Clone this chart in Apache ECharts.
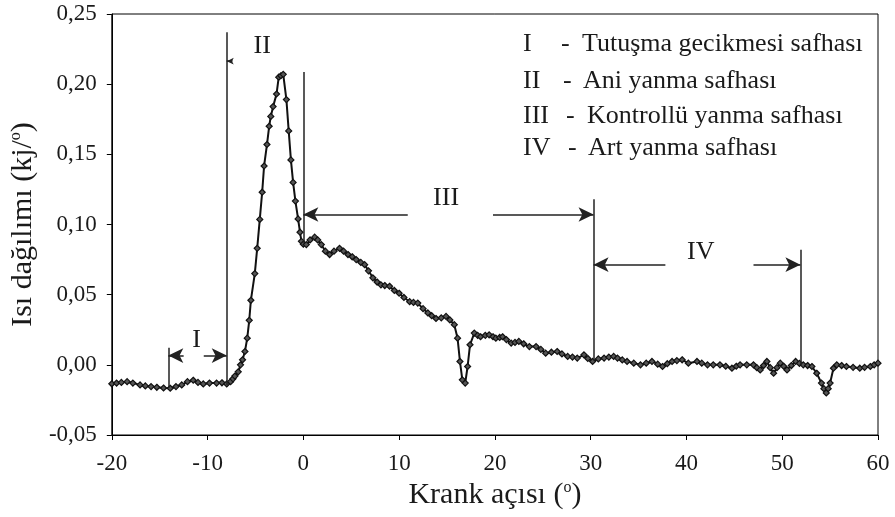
<!DOCTYPE html>
<html>
<head>
<meta charset="utf-8">
<script src="https://cdn.jsdelivr.net/npm/echarts@6/dist/echarts.min.js"></script>
<style>
  html, body { margin: 0; padding: 0; background: #fff; }
  #chart { width: 895px; height: 517px; }
</style>
</head>
<body>
<div id="chart"></div>
<script>
// Crank angle (deg) and heat release rate (kJ/deg)
const crankAngle = [
  -20, -19.5, -19, -18.4, -17.8, -17.05, -16.5, -15.9, -15.3, -14.6,
  -13.9, -13.3, -12.7, -12.1, -11.5, -11.0, -10.45, -9.8, -9.06, -8.5,
  -8.0, -7.6, -7.35, -7.15, -6.8, -6.56, -6.35, -6.1, -5.86, -5.65,
  -5.48, -5.07, -4.82, -4.55, -4.3, -4.1, -3.8, -3.57, -3.4, -3.16,
  -2.8, -2.57, -2.35, -2.1, -1.77, -1.53, -1.3, -1.07, -0.83, -0.55,
  -0.35, -0.2, 0.0, 0.31, 0.7, 1.18, 1.5, 1.875, 2.3, 2.74,
  3.2, 3.78, 4.2, 4.66, 5.1, 5.52, 6.0, 6.4, 6.8, 7.26,
  7.7, 8.1, 8.5, 9.0, 9.5, 10.0, 10.5, 11.1, 11.5, 11.95,
  12.5, 13.0, 13.4, 13.85, 14.4, 14.9, 15.3, 15.76, 16.1, 16.35,
  16.6, 16.9, 17.15, 17.4, 17.85, 18.2, 18.5, 19.0, 19.4, 19.8,
  20.1, 20.5, 20.8, 21.2, 21.7, 22.1, 22.5, 23.0, 23.6, 24.3,
  24.8, 25.3, 25.9, 26.5, 27.0, 27.6, 28.1, 28.6, 29.3, 29.7,
  30.2, 30.8, 31.4, 31.9, 32.4, 32.8, 33.3, 33.8, 34.5, 35.2,
  35.8, 36.4, 37.0, 37.5, 38.0, 38.5, 39.0, 39.55, 40.2, 41.1,
  41.6, 42.2, 42.8, 43.5, 44.1, 44.75, 45.2, 45.6, 46.3, 47.0,
  47.35, 47.7, 48.05, 48.4, 48.75, 49.1, 49.45, 49.8, 50.15, 50.5,
  50.95, 51.4, 51.8, 52.2, 52.65, 53.1, 53.6, 54.1, 54.35, 54.6,
  54.8, 55.0, 55.35, 55.7, 56.2, 56.7, 57.4, 58.1, 58.6, 59.2,
  59.6, 60.0
];
const heatRelease = [
  -0.0135, -0.013, -0.0125, -0.012, -0.013, -0.0143, -0.015, -0.0155, -0.016, -0.0165,
  -0.0167, -0.0155, -0.0143, -0.012, -0.011, -0.0125, -0.0136, -0.013, -0.013, -0.0128,
  -0.0136, -0.012, -0.010, -0.008, -0.005, 0.0, 0.0036, 0.0095, 0.019, 0.0317,
  0.046, 0.065, 0.083, 0.1036, 0.123, 0.1417, 0.157, 0.170, 0.177, 0.184,
  0.193, 0.205, 0.206, 0.207, 0.189, 0.1667, 0.146, 0.130, 0.1167, 0.104,
  0.0945, 0.088, 0.086, 0.0857, 0.089, 0.091, 0.089, 0.0857, 0.081, 0.0786,
  0.081, 0.083, 0.081, 0.0786, 0.077, 0.075, 0.073, 0.0714, 0.067, 0.062,
  0.059, 0.057, 0.0565, 0.056, 0.053, 0.051, 0.048, 0.045, 0.0445, 0.044,
  0.040, 0.037, 0.035, 0.033, 0.0335, 0.0345, 0.032, 0.0286, 0.019, 0.0024,
  -0.0107, -0.013, -0.0012, 0.0143, 0.0226, 0.021, 0.020, 0.021, 0.0214, 0.020,
  0.019, 0.0195, 0.020, 0.018, 0.0155, 0.016, 0.0167, 0.015, 0.013, 0.013,
  0.011, 0.0083, 0.009, 0.0095, 0.0078, 0.006, 0.0055, 0.0048, 0.0071, 0.0045,
  0.0024, 0.0042, 0.0048, 0.0055, 0.006, 0.0048, 0.0035, 0.0024, 0.0012, 0.0,
  0.0012, 0.0024, 0.0005, -0.0012, 0.0008, 0.0024, 0.003, 0.0036, 0.0012, 0.0024,
  0.0012, 0.0, 0.0, 0.0, -0.001, -0.0024, -0.001, 0.0, 0.0, 0.0,
  -0.002, -0.0036, -0.0005, 0.0024, -0.002, -0.006, -0.002, 0.0012, -0.001, -0.0036,
  -0.0005, 0.0024, 0.001, 0.0, -0.0005, -0.0012, -0.006, -0.013, -0.017, -0.020,
  -0.017, -0.013, -0.0024, 0.0, -0.0005, -0.0012, -0.0018, -0.0024, -0.0018, -0.0012,
  0.0, 0.0012
];

// Phase boundaries: [angle, lowY, highY]
const phaseBounds = [
  [-14.1, -0.0164, 0.0121],
  [-8.0, -0.0143, 0.237],
  [0.0, 0.087, 0.2086],
  [30.3, 0.003, 0.118],
  [51.9, 0.0, 0.082]
];
// Phase arrows: [fromX, toX, y]
const phaseArrows = [
  [-12.5, -14.1, 0.0066],
  [-10.4, -8.0, 0.0066],
  [-7.4, -8.0, 0.2164],
  [10.9, 0.0, 0.1071],
  [19.8, 30.3, 0.1071],
  [37.8, 30.3, 0.0714],
  [47.0, 51.9, 0.0714]
];
// Phase tags: [label, x, y]
const phaseTags = [
  ['I', -11.15, 0.0175],
  ['II', -4.3, 0.227],
  ['III', 14.9, 0.119],
  ['IV', 41.5, 0.080]
];
// Legend rows: numeral, description
const phaseNames = [
  ['I', 'Tutuşma gecikmesi safhası'],
  ['II', 'Ani yanma safhası'],
  ['III', 'Kontrollü yanma safhası'],
  ['IV', 'Art yanma safhası']
];
const xTicks = { min: -20, max: 60, step: 10 };
const yTicks = { min: -0.05, max: 0.25, step: 0.05 };

const serif = '"Liberation Serif", "DejaVu Serif", serif';
const ink = '#1a1a1a';

const curve = crankAngle.map((x, i) => [x, heatRelease[i]]);

const lineItems = [];
phaseBounds.forEach(b => {
  lineItems.push([
    { coord: [b[0], b[1]], symbol: 'none' },
    { coord: [b[0], b[2]], symbol: 'none' }
  ]);
});
phaseArrows.forEach(a => {
  lineItems.push([
    { coord: [a[0], a[2]], symbol: 'none' },
    { coord: [a[1], a[2]], symbol: 'arrow', symbolSize: [11, 15] }
  ]);
});
// the small arrow beside phase II is tiny
lineItems[lineItems.length - 5][1].symbolSize = [5, 7];

const tagItems = phaseTags.map(t => ({
  coord: [t[1], t[2]],
  value: t[0],
  symbol: 'circle',
  symbolSize: 0,
  label: {
    show: true, formatter: t[0], position: 'inside',
    fontFamily: serif, fontSize: 26, color: ink
  }
}));

const legendRows = [
  { y: 31, dashX: 561, textX: 582 },
  { y: 68, dashX: 563, textX: 583 },
  { y: 103, dashX: 566, textX: 587 },
  { y: 135, dashX: 568, textX: 588 }
];
const graphics = [];
phaseNames.forEach((p, i) => {
  const r = legendRows[i];
  const st = { fontFamily: serif, fontSize: 26, fill: ink };
  graphics.push({ type: 'text', left: 523, top: r.y, style: Object.assign({ text: p[0] }, st) });
  graphics.push({ type: 'text', left: r.dashX, top: r.y, style: Object.assign({ text: '-' }, st) });
  graphics.push({ type: 'text', left: r.textX, top: r.y, style: Object.assign({ text: p[1] }, st) });
});

const chart = echarts.init(document.getElementById('chart'), null, { renderer: 'canvas' });
chart.setOption({
  animation: false,
  backgroundColor: '#fff',
  grid: {
    left: 110, right: 17, top: 14, bottom: 82,
    show: true, borderColor: '#000', borderWidth: 1, backgroundColor: 'transparent'
  },
  xAxis: {
    type: 'value',
    min: xTicks.min, max: xTicks.max, interval: xTicks.step,
    axisLine: { onZero: false, lineStyle: { color: '#000', width: 1 } },
    axisTick: { inside: false, length: 5, lineStyle: { color: '#000' } },
    splitLine: { show: false },
    axisLabel: { fontFamily: serif, fontSize: 23, color: ink, margin: 17 },
    name: '{t|Krank açısı (}{s|o}{t|)}',
    nameLocation: 'middle',
    nameGap: 44,
    nameTextStyle: {
      rich: {
        t: { fontFamily: serif, fontSize: 30, color: ink },
        s: { fontFamily: serif, fontSize: 16, color: ink, verticalAlign: 'top', padding: [0, 0, 12, 0] }
      }
    }
  },
  yAxis: {
    type: 'value',
    min: yTicks.min, max: yTicks.max, interval: yTicks.step,
    axisLine: { show: true, onZero: false, lineStyle: { color: '#000', width: 1 } },
    axisTick: { show: true, inside: false, length: 5, lineStyle: { color: '#000' } },
    splitLine: { show: false },
    axisLabel: {
      fontFamily: serif, fontSize: 23, color: ink, margin: 15,
      formatter: v => v.toFixed(2).replace('.', ',')
    },
    name: '{t|Isı dağılımı (kj/}{s|o}{t|)}',
    nameLocation: 'middle',
    nameGap: 72,
    nameRotate: 90,
    nameTextStyle: {
      rich: {
        t: { fontFamily: serif, fontSize: 30, color: ink },
        s: { fontFamily: serif, fontSize: 16, color: ink, verticalAlign: 'top', padding: [0, 0, 12, 0] }
      }
    }
  },
  series: [
    {
      type: 'line',
      data: curve,
      symbol: 'diamond',
      symbolSize: 6,
      showAllSymbol: true,
      lineStyle: { color: '#111', width: 2 },
      itemStyle: { color: '#555', borderColor: '#111', borderWidth: 1.2 },
      z: 3
    },
    {
      type: 'line',
      data: [],
      silent: true,
      markLine: {
        silent: true,
        animation: false,
        label: { show: false },
        lineStyle: { color: '#222', width: 1.5, type: 'solid' },
        data: lineItems
      },
      markPoint: {
        silent: true,
        animation: false,
        data: tagItems
      }
    }
  ],
  graphic: graphics
});
</script>
</body>
</html>
